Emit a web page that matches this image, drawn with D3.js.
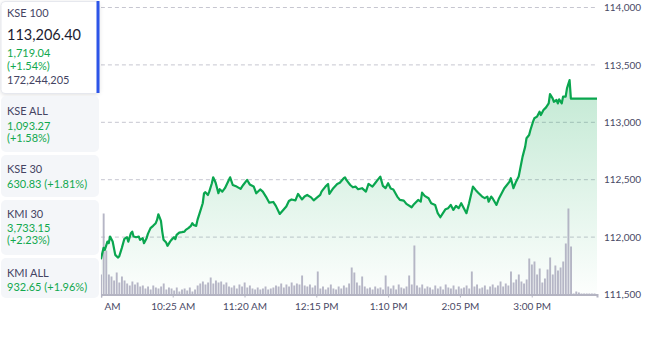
<!DOCTYPE html>
<html>
<head>
<meta charset="utf-8">
<script src="https://cdn.jsdelivr.net/npm/d3@7"></script>
<style>
  body { margin: 0; background: #fff; }
  svg { display: block; font-family: Lato, "Open Sans", sans-serif; }
</style>
</head>
<body>
<div id="chart-area"></div>
<script>
let width = 651;
let height = 351;

// minutes after 9:30 and index level (KSE 100)
const lineMins = [0,2,3,5,6,7,9,11,13,14,16,18,20,21,23,24,25,27,29,30,32,33,35,36,38,40,42,43,44,46,
  47,48,50,51,53,54,56,57,58,60,62,64,65,67,69,70,71,73,74,76,78,79,80,82,83,85,86,87,88,90,
  91,93,95,97,99,101,104,107,109,112,114,117,119,122,124,127,129,132,134,137,140,142,144,146,149,151,154,156,158,161,
  163,165,168,169,170,172,174,175,178,181,183,186,187,188,191,193,195,197,200,203,205,208,210,212,214,216,218,220,222,224,
  227,229,232,234,238,240,243,245,246,248,251,253,256,258,260,262,264,266,268,270,272,274,276,278,280,282,285,287,289,292,
  294,296,297,299,300,303,305,307,309,311,313,314,316,318,320,322,323,325,326,328,329,331,332,334,336,337,339,341,343,344,
  346,347,349,350,351,353,354,356,357,359,360,380];
const lineVals = [111808,111906,111889,111961,111947,112005,111961,111845,111822,111831,111904,111985,111999,111961,112034,112048,112005,111999,112005,111976,111991,111947,111991,112028,112078,112098,112121,112150,112199,112141,
  112048,111976,111952,111924,111961,111976,111999,111982,112019,112039,112043,112048,112063,112078,112098,112121,112106,112098,112150,112222,112295,112382,112391,112367,112396,112469,112521,112498,112469,112382,
  112417,112396,112426,112474,112521,112454,112440,112420,112454,112498,112459,112441,112382,112415,112396,112341,112300,112306,112272,112202,112241,112266,112315,112328,112320,112376,112328,112354,112367,112346,
  112320,112339,112367,112396,112411,112440,112463,112376,112426,112463,112474,112513,112521,112498,112454,112434,112440,112417,112426,112396,112463,112440,112469,112498,112527,112446,112426,112469,112424,112415,
  112353,112324,112318,112289,112260,112289,112324,112309,112387,112359,112339,112295,112280,112208,112173,112208,112243,112252,112280,112237,112272,112252,112295,112252,112208,112295,112440,112411,112387,112353,
  112339,112353,112309,112353,112339,112280,112339,112382,112426,112454,112483,112513,112426,112483,112527,112643,112701,112788,112861,112889,112933,113005,113035,113049,113092,113063,113107,113130,113165,113246,
  113209,113179,113194,113165,113200,113165,113223,113223,113296,113368,113206,113206];

// traded volume per 2-minute bucket (x10k shares), bucket i starts at minute 2*i
const volume = [20,81,44,20,18,14,22,12,18,14,11,9,13,10,12,8,9,6,8,5,
  9,7,6,8,11,5,7,6,4,7,3,5,6,4,7,3,5,9,11,13,
  10,12,17,11,14,12,13,10,12,8,7,9,6,10,8,12,7,9,6,5,
  7,5,6,8,5,6,7,9,8,11,7,10,8,12,9,11,10,19,9,8,
  10,7,9,23,6,8,5,7,10,6,5,8,6,9,7,11,27,22,12,9,
  18,8,6,7,5,8,6,7,5,19,8,6,9,5,10,7,6,8,19,10,
  49,9,7,10,6,8,7,5,9,6,8,5,10,7,6,9,5,8,6,7,
  9,6,23,8,10,6,7,9,5,8,10,7,9,13,8,11,9,23,12,15,
  20,13,11,15,36,30,33,20,26,12,16,25,37,20,29,24,27,33,51,86,
  48,1,3,2,1,1,1,1,1,1];

const yTicks = [111500,112000,112500,113000,113500,114000];
const xTickMins = [0,55,110,165,220,275,330];
const xTickLabels = ["9:30 AM","10:25 AM","11:20 AM","12:15 PM","1:10 PM","2:05 PM","3:00 PM"];

// index cards on the left
const indexNames = ["KSE 100","KSE ALL","KSE 30","KMI 30","KMI ALL"];
const indexChanges = ["1,719.04","1,093.27","630.83","3,733.15","932.65"];
const indexPcts = ["(+1.54%)","(+1.58%)","(+1.81%)","(+2.23%)","(+1.96%)"];
const kse100Level = "113,206.40";
const kse100Volume = "172,244,205";

let svg = d3.select("#chart-area")
  .append("svg")
  .attr("width", width)
  .attr("height", height);

let plotLeft = 100.9, plotRight = 597, plotTop = 7.5, plotBottom = 294.5;

let x = d3.scaleLinear().domain([0, 380]).range([plotLeft, plotRight]);
let y = d3.scaleLinear().domain([111500, 114000]).range([plotBottom, plotTop]);
let yVol = d3.scaleLinear().domain([0, 100]).range([plotBottom, plotBottom - 100]);

let line = lineMins.map((m, i) => ({ m: m, v: lineVals[i] }));

let defs = svg.append("defs");
let grad = defs.append("linearGradient")
  .attr("id", "areaGrad")
  .attr("gradientUnits", "userSpaceOnUse")
  .attr("x1", 0).attr("x2", 0)
  .attr("y1", y(113368)).attr("y2", plotBottom);
grad.append("stop").attr("offset", "0%").attr("stop-color", "#0aa64f").attr("stop-opacity", 0.25);
grad.append("stop").attr("offset", "100%").attr("stop-color", "#0aa64f").attr("stop-opacity", 0.01);

// the first tick label is cut off at the panel edge (clip is in the tick's own coordinates)
defs.append("clipPath").attr("id", "axisClip")
  .append("rect")
  .attr("x", 103.5 - x(0)).attr("y", -5)
  .attr("width", 100).attr("height", 40);

// gridlines
svg.append("g")
  .selectAll("line")
  .data(yTicks.slice(1))
  .enter()
  .append("line")
  .attr("x1", plotLeft).attr("x2", plotRight)
  .attr("y1", d => y(d)).attr("y2", d => y(d))
  .attr("stroke", "#c6c6d0")
  .attr("stroke-width", 1)
  .attr("stroke-dasharray", "4,3");

// area
svg.append("path")
  .datum(line)
  .attr("fill", "url(#areaGrad)")
  .attr("d", d3.area().x(d => x(d.m)).y0(plotBottom).y1(d => y(d.v)));

// volume bars
svg.append("g")
  .selectAll("rect")
  .data(volume)
  .enter()
  .append("rect")
  .attr("x", (d, i) => x(i * 2) - 0.8)
  .attr("width", 1.9)
  .attr("y", d => yVol(d))
  .attr("height", d => plotBottom - yVol(d))
  .attr("fill", "#a9a9bc")
  .attr("opacity", 0.85);

// line
svg.append("path")
  .datum(line)
  .attr("fill", "none")
  .attr("stroke", "#0aa64f")
  .attr("stroke-width", 2.2)
  .attr("stroke-linejoin", "round")
  .attr("d", d3.line().x(d => x(d.m)).y(d => y(d.v)));

// x axis
let xAxis = d3.axisBottom(x)
  .tickValues(xTickMins)
  .tickFormat((d, i) => xTickLabels[i])
  .tickSize(3)
  .tickPadding(5);

let xg = svg.append("g")
  .attr("transform", `translate(0, ${plotBottom})`)
  .call(xAxis);
xg.select(".domain").attr("stroke", "#b4b4c2").attr("stroke-width", 2);
xg.selectAll(".tick line").attr("stroke", "#b4b4c2");
xg.selectAll("text")
  .attr("fill", "#4a4a66")
  .style("font-size", "10px")
  .style("font-family", "Lato");
xg.select(".tick text").attr("clip-path", "url(#axisClip)");

// y axis labels on the right
let yAxis = d3.axisRight(y)
  .tickValues(yTicks)
  .tickFormat(d3.format(","))
  .tickSize(0)
  .tickPadding(7);

let yg = svg.append("g")
  .attr("transform", `translate(${plotRight}, 0)`)
  .call(yAxis);
yg.select(".domain").remove();
yg.selectAll("text").attr("fill", "#4a4a66").style("font-size", "10px").style("font-family", "Lato");

// left panel covers the chart edge
svg.append("rect")
  .attr("x", 0).attr("y", 0)
  .attr("width", plotLeft).attr("height", 300)
  .attr("fill", "#fff");

let cardTops = [1, 96, 155, 200, 258];
let cardHeights = [92, 56, 42, 55, 40];
let green = "#11a84e";

let cards = svg.append("g");

// selected card
cards.append("rect")
  .attr("x", 1).attr("y", 1.5)
  .attr("width", 98).attr("height", 92)
  .attr("rx", 4)
  .attr("fill", "#fff")
  .attr("stroke", "#e6e8ee")
  .style("filter", "drop-shadow(0px 1px 2px rgba(0,0,0,0.12))");
cards.append("rect")
  .attr("x", 96.5).attr("y", 1)
  .attr("width", 3).attr("height", 92)
  .attr("fill", "#2d55e8");

for (let i = 1; i < indexNames.length; i++) {
  cards.append("rect")
    .attr("x", 1).attr("y", cardTops[i])
    .attr("width", 98).attr("height", cardHeights[i])
    .attr("rx", 5)
    .attr("fill", "#f4f6f9");
}

// card 1 text
cards.append("text").attr("x", 7).attr("y", 17).attr("fill", "#444463").style("font-size", "11px").text(indexNames[0]);
cards.append("text").attr("x", 7).attr("y", 40).attr("fill", "#1b1b30").style("font-size", "14.5px").text(kse100Level);
cards.append("text").attr("x", 7).attr("y", 57).attr("fill", green).style("font-size", "11px").text(indexChanges[0]);
cards.append("text").attr("x", 7).attr("y", 69.5).attr("fill", green).style("font-size", "11px").text(indexPcts[0]);
cards.append("text").attr("x", 7).attr("y", 83.5).attr("fill", "#444463").style("font-size", "11px").text(kse100Volume);

// other cards: [name baseline, change baseline, pct baseline or null when inline]
let layout = [null, [115, 130, 142], [173, 188, null], [218, 232, 244], [276.5, 290.5, null]];
for (let i = 1; i < indexNames.length; i++) {
  let l = layout[i];
  cards.append("text").attr("x", 7).attr("y", l[0]).attr("fill", "#444463").style("font-size", "11px").text(indexNames[i]);
  if (l[2] === null) {
    cards.append("text").attr("x", 7).attr("y", l[1]).attr("fill", green).style("font-size", "11px")
      .text(indexChanges[i] + " " + indexPcts[i]);
  } else {
    cards.append("text").attr("x", 7).attr("y", l[1]).attr("fill", green).style("font-size", "11px").text(indexChanges[i]);
    cards.append("text").attr("x", 7).attr("y", l[2]).attr("fill", green).style("font-size", "11px").text(indexPcts[i]);
  }
}
</script>
</body>
</html>
